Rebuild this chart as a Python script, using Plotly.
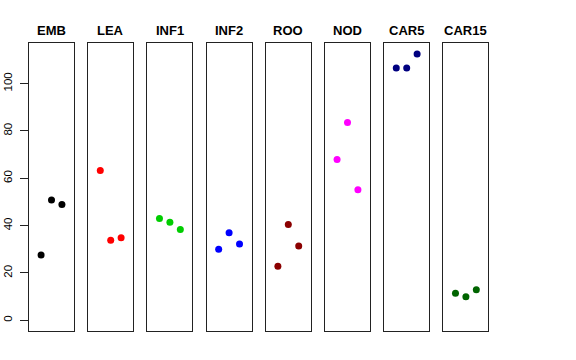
import plotly.graph_objects as go

categories = ["EMB", "LEA", "INF1", "INF2", "ROO", "NOD", "CAR5", "CAR15"]
colors = ["#000000", "#FF0000", "#00CD00", "#0000FF", "#8B0000", "#FF00FF", "#000080", "#006400"]
positions = [1, 2, 3]
values = {
    "EMB": [27.6, 50.8, 48.9],
    "LEA": [63.3, 33.8, 34.9],
    "INF1": [43.0, 41.4, 38.4],
    "INF2": [30.0, 37.0, 32.2],
    "ROO": [22.8, 40.5, 31.4],
    "NOD": [67.9, 83.5, 55.1],
    "CAR5": [106.6, 106.6, 112.5],
    "CAR15": [11.4, 10.0, 12.9],
}
y_ticks = [0, 20, 40, 60, 80, 100]

W, H = 576, 360
left0, pitch, pw = 29.0, 59.2, 45.0
top_px, bot_px = 43.3, 331.0
ymax = max(max(v) for v in values.values())
pad = 0.04 * ymax

fig = go.Figure()
for i, cat in enumerate(categories):
    n = i + 1
    xa = "x" if n == 1 else f"x{n}"
    ya = "y" if n == 1 else f"y{n}"
    fig.add_trace(go.Scatter(
        x=positions, y=values[cat], mode="markers",
        marker=dict(color=colors[i], size=7, line=dict(width=0)),
        xaxis=xa, yaxis=ya, showlegend=False, hoverinfo="skip"))
    l = left0 + i * pitch
    r = l + pw
    xkey = "xaxis" if n == 1 else f"xaxis{n}"
    ykey = "yaxis" if n == 1 else f"yaxis{n}"
    fig.layout[xkey] = dict(
        domain=[l / W, r / W], range=[-0.16, 4.16], anchor=ya, automargin=False,
        showgrid=False, zeroline=False, showticklabels=False, ticks="",
        showline=True, mirror=True, linecolor="#222222", linewidth=1)
    yaxis = dict(
        domain=[1 - bot_px / H, 1 - top_px / H], range=[-pad, ymax + pad], anchor=xa,
        automargin=False, showgrid=False, zeroline=False,
        showline=True, mirror=True, linecolor="#222222", linewidth=1)
    if n == 1:
        yaxis.update(tickvals=y_ticks, ticks="outside", ticklen=8, tickwidth=1,
                     tickcolor="#222222", tickangle=-90, ticklabelstandoff=3,
                     tickfont=dict(family="Liberation Sans, Arial", size=11.5, color="#000000"))
    else:
        yaxis.update(showticklabels=False, ticks="")
    fig.layout[ykey] = yaxis
    fig.add_annotation(
        x=(l + r) / 2 / W, y=1 - 30 / H, xref="paper", yref="paper",
        text=f"<b>{cat}</b>", showarrow=False,
        font=dict(family="Liberation Sans, Arial", size=13, color="#000000"),
        xanchor="center", yanchor="middle")

fig.update_layout(
    width=W, height=H, margin=dict(l=0, r=0, t=0, b=0, autoexpand=False),
    plot_bgcolor="white", paper_bgcolor="white")

fig.write_html("out.html", config={"displayModeBar": False},
               post_script="document.body.style.margin='0';")
